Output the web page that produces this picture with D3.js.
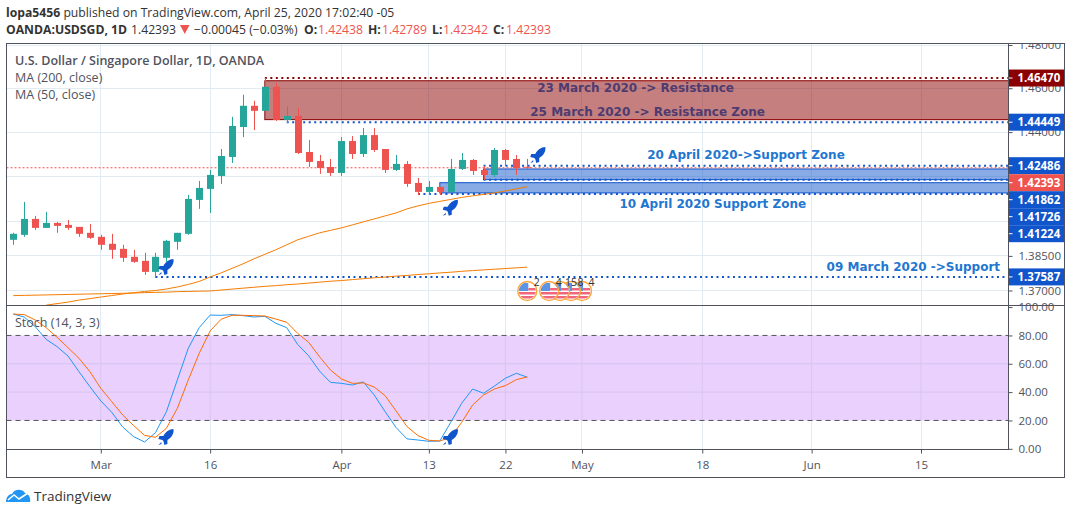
<!DOCTYPE html>
<html><head><meta charset="utf-8">
<script src="https://cdn.jsdelivr.net/npm/d3@7"></script>
<style>html,body{margin:0;padding:0;background:#fff}svg{display:block}text{font-family:"Open Sans",sans-serif}</style>
</head><body><svg id="c" width="1071" height="514"></svg>
<script>
const open=[1.39202,1.3942,1.4012,1.39725,1.39944,1.39857,1.39769,1.39508,1.39333,1.39027,1.38808,1.38459,1.38284,1.37805,1.38415,1.39114,1.39464,1.40961,1.41449,1.42027,1.42878,1.4423,1.45196,1.44966,1.46069,1.44552,1.44736,1.43102,1.42699,1.4243,1.42161,1.43595,1.43012,1.43864,1.43236,1.42296,1.42564,1.41715,1.41316,1.41538,1.41316,1.4234,1.42744,1.42296,1.42072,1.43192,1.42788,1.42438];
const high=[1.39508,1.40873,1.40253,1.4043,1.39988,1.40075,1.39769,1.399,1.3942,1.39464,1.38983,1.38765,1.38634,1.38634,1.39202,1.39508,1.41183,1.41803,1.42296,1.43236,1.4469,1.45702,1.45426,1.46483,1.46253,1.4515,1.45104,1.4364,1.42968,1.42788,1.43774,1.43819,1.44184,1.44184,1.43236,1.42968,1.42699,1.41936,1.41803,1.41538,1.42788,1.43057,1.42788,1.42475,1.43281,1.43236,1.42968,1.42789];
const low=[1.38983,1.39333,1.39638,1.39725,1.39508,1.39638,1.39333,1.39245,1.38765,1.38371,1.3824,1.38197,1.37674,1.37544,1.3824,1.38765,1.3942,1.40563,1.40385,1.41671,1.42609,1.43774,1.44092,1.44966,1.44506,1.44414,1.43012,1.4243,1.42117,1.42027,1.42027,1.42788,1.42878,1.43102,1.42161,1.42251,1.41538,1.41183,1.41183,1.41183,1.41272,1.42296,1.42072,1.41848,1.4198,1.42475,1.42072,1.42342];
const close=[1.39464,1.4012,1.39725,1.39944,1.39813,1.39725,1.39464,1.39289,1.38983,1.38765,1.38415,1.3824,1.37805,1.38459,1.39158,1.39508,1.41006,1.41494,1.42072,1.42923,1.44276,1.45196,1.44966,1.46069,1.44552,1.44736,1.43057,1.42654,1.42385,1.42161,1.43595,1.43012,1.43864,1.43192,1.42296,1.42564,1.41671,1.41316,1.41538,1.41316,1.4234,1.42744,1.42251,1.42072,1.43192,1.42744,1.42385,1.42393];
const ma200=[1.3678,1.3679,1.368,1.3681,1.3682,1.3683,1.3684,1.3685,1.3686,1.3687,1.3688,1.3689,1.3691,1.3692,1.3693,1.3695,1.3696,1.3697,1.3698,1.3702,1.3706,1.371,1.3714,1.3718,1.3721,1.3725,1.3728,1.3732,1.3736,1.374,1.3743,1.3747,1.3751,1.3755,1.3758,1.3762,1.3765,1.3769,1.3772,1.3776,1.3779,1.3783,1.3786,1.3789,1.3792,1.3795,1.3798,1.3801];
const ma50=[null,null,null,1.3637,1.36435,1.365,1.36587,1.3665,1.36717,1.36783,1.36848,1.36904,1.36957,1.37,1.37065,1.37152,1.37261,1.37392,1.37587,1.37761,1.37957,1.38153,1.38371,1.38568,1.38765,1.38983,1.39202,1.39355,1.39508,1.39617,1.39725,1.39857,1.39988,1.4012,1.40253,1.40385,1.40563,1.40695,1.40806,1.40895,1.40983,1.41072,1.41139,1.41205,1.41272,1.4136,1.41449,1.41551];
const stochK=[95.1,93,86.2,77.3,72.1,65.5,54.5,43.9,33.8,25.8,15.4,8.6,4.8,11.4,26.2,48.6,70.9,85.5,94.4,94.2,94.7,94,93,93.5,88.6,85.5,73.7,65.7,54.9,46.9,46.2,45,47.2,38,26.2,15,7,6.2,5.3,5.5,18.7,32.1,42.2,39.2,44.3,49.8,53.3,50.5];
const stochD=[95.1,94.7,90.9,85.5,78.7,71.4,63.9,54.5,42.7,33.3,23.9,16.4,9.5,8.1,14.5,28.6,48.6,67.4,83.2,91.4,94.2,94.2,94,93.7,91.6,89.3,81.5,75.2,65,55.6,49.3,46.2,46.5,43.6,37.5,26.7,15.7,9.3,6,5.5,8.1,18.7,30.9,38,42.2,44.6,48.8,50.7];
const xTickBars=[8,18,30,38,45,52,63,73,83];
const xTickLabels=["Mar","16","Apr","13","22","May","18","Jun","15"];
const priceTicks=[1.48,1.46,1.44,1.42,1.40,1.385,1.37];
const stochTicks=[100,80,60,40,20,0];
const priceLabels=[1.4647,1.44449,1.42486,1.42393,1.41862,1.41726,1.41224,1.37587];
const priceLabelColors=["#8b0000","#1155cc","#1155cc","#ef5350","#1155cc","#1155cc","#1155cc","#1155cc"];
const dottedPrices=[1.4647,1.44449,1.42486,1.41862,1.41224,1.37587];
const dottedStartBars=[23,25,43,43,37,13];
const dottedColors=["#8b0000","#1155cc","#1155cc","#1155cc","#1155cc","#1155cc"];
const zoneTops=[1.46345,1.4234,1.41726];
const zoneBottoms=[1.44566,1.41862,1.41272];
const zoneStartBars=[23,43,39];
const zoneFills=["rgba(139,0,0,0.5)","rgba(17,85,204,0.5)","rgba(17,85,204,0.5)"];
const zoneStrokes=["#8b0000","#1155cc","#1155cc"];
const noteTexts=["23 March 2020 -> Resistance","25 March 2020 -> Resistance Zone","20 April 2020->Support Zone","10 April 2020 Support Zone","09 March 2020 ->Support"];
const noteBars=[56.9,58,67,63.96,82.3];
const notePrices=[1.4602,1.4492,1.42968,1.4078,1.3802];
const noteColors=["#4e3b6f","#4e3b6f","#1f77d0","#1f77d0","#1f77d0"];
const rocketBars=[14,40,48];
const rocketPrices=[1.3802,1.4061,1.4297];
const stochRocketBars=[14,40];
const stochRocketValues=[8.3,8.3];
const eventBars=[47,49,50,51,52];
const eventCounts=["2","4","15","8","4"];
const headerKeys=["O:","H:","L:","C:"];
const headerVals=["1.42438","1.42789","1.42342","1.42393"];
const headerKeyX=[304,368,432,493];
const headerValX=[318,382,443,506];

const L=6.5,AX=1008.5,R=1064.5,T=43.5,S=305.5,B=449.5,F=477.5;
const svg=d3.select("#c");
const x=d3.scaleLinear().domain([0,83]).range([13.3,921]);
const y=d3.scaleLog().domain([1.37,1.48]).range([290.5,45]);
const ys=d3.scaleLinear().domain([0,100]).range([448.8,307.1]);
const bars=d3.range(open.length);
const defs=svg.append("defs");
defs.append("clipPath").attr("id","m").append("rect").attr("x",L).attr("y",T).attr("width",AX-L).attr("height",S-T);
defs.append("clipPath").attr("id","s").append("rect").attr("x",L).attr("y",S).attr("width",AX-L).attr("height",B-S);
defs.append("clipPath").attr("id","ax").append("rect").attr("x",AX).attr("y",T).attr("width",R-AX).attr("height",F-T);

// header
const HF=12.2;
const h1=svg.append("text").attr("x",6).attr("y",17).attr("font-size",HF).attr("fill","#333");
h1.append("tspan").attr("font-weight",700).text("lopa5456");
h1.append("tspan").text(" published on TradingView.com, April 25, 2020 17:02:40 -05");
svg.append("text").attr("x",6).attr("y",34).attr("font-size",HF).attr("font-weight",700).attr("fill","#333").text("OANDA:USDSGD, 1D");
svg.append("text").attr("x",131).attr("y",34).attr("font-size",HF).attr("fill","#333").text("1.42393");
svg.append("path").attr("d","M180,25 h9.5 l-4.75,9 z").attr("fill","#ef5350");
svg.append("text").attr("x",194).attr("y",34).attr("font-size",HF).attr("fill","#333").text("\u22120.00045 (\u22120.03%)");
headerKeys.forEach((k,i)=>{
  svg.append("text").attr("x",headerKeyX[i]).attr("y",34).attr("font-size",HF).attr("font-weight",700).attr("fill","#333").text(k);
  svg.append("text").attr("x",headerValX[i]).attr("y",34).attr("font-size",HF).attr("fill","#ef5350").text(headerVals[i]);
});

// grid
const grid=svg.append("g").attr("stroke","#e1ecf2").attr("stroke-width",1).attr("shape-rendering","crispEdges");
xTickBars.forEach(b=>grid.append("line").attr("x1",x(b)).attr("x2",x(b)).attr("y1",T).attr("y2",B));
priceTicks.forEach(p=>grid.append("line").attr("x1",L).attr("x2",AX).attr("y1",y(p)).attr("y2",y(p)));

// stoch band
const st=svg.append("g").attr("clip-path","url(#s)");
st.append("rect").attr("x",L).attr("width",AX-L).attr("y",ys(80)).attr("height",ys(20)-ys(80)).attr("fill","#e9d0fd");
[60,40].forEach(v=>st.append("line").attr("x1",L).attr("x2",AX).attr("y1",ys(v)).attr("y2",ys(v)).attr("stroke","#d5c3f2"));
xTickBars.forEach(b=>st.append("line").attr("x1",x(b)).attr("x2",x(b)).attr("y1",ys(80)).attr("y2",ys(20)).attr("stroke","#d8c6f0"));
[80,20].forEach(v=>st.append("line").attr("x1",L).attr("x2",AX).attr("y1",ys(v)).attr("y2",ys(v)).attr("stroke","#555").attr("stroke-dasharray","5 4"));
const sl=d3.line().x((d,i)=>x(i)).y(d=>ys(d));
st.append("path").attr("d",sl(stochK)).attr("fill","none").attr("stroke","#2196f3").attr("stroke-width",1);
st.append("path").attr("d",sl(stochD)).attr("fill","none").attr("stroke","#ff6d00").attr("stroke-width",1);

// main pane
const m=svg.append("g").attr("clip-path","url(#m)");
zoneTops.forEach((t,i)=>{
  m.append("rect").attr("x",x(zoneStartBars[i])).attr("width",AX-x(zoneStartBars[i])).attr("y",y(t)).attr("height",y(zoneBottoms[i])-y(t))
   .attr("fill",zoneFills[i]).attr("stroke",zoneStrokes[i]).attr("stroke-width",1);
});
m.append("line").attr("x1",L).attr("x2",AX).attr("y1",y(close[47])).attr("y2",y(close[47])).attr("stroke","#ef5350").attr("stroke-dasharray","2 2");
dottedPrices.forEach((p,i)=>{
  m.append("line").attr("x1",x(dottedStartBars[i])).attr("x2",AX).attr("y1",y(p)).attr("y2",y(p))
   .attr("stroke",dottedColors[i]).attr("stroke-width",2).attr("stroke-dasharray","2 3.5");
});
const ml=d3.line().defined(d=>d!==null).x((d,i)=>x(i)).y(d=>y(d));
m.append("path").attr("d",ml(ma200)).attr("fill","none").attr("stroke","#f57c00").attr("stroke-width",1);
m.append("path").attr("d",ml(ma50)).attr("fill","none").attr("stroke","#f57c00").attr("stroke-width",1);
bars.forEach(i=>{
  const up=close[i]>=open[i],c=up?"#26a69a":"#ef5350";
  const X=Math.round(x(i))+0.5;
  m.append("line").attr("x1",X).attr("x2",X).attr("y1",y(high[i])).attr("y2",y(low[i])).attr("stroke",c).attr("stroke-width",1);
  const a=y(Math.max(open[i],close[i])),b=y(Math.min(open[i],close[i]));
  m.append("rect").attr("x",X-3.5).attr("width",7).attr("y",a).attr("height",Math.max(1,b-a)).attr("fill",c);
});
noteTexts.forEach((t,i)=>{
  svg.append("text").attr("x",x(noteBars[i])).attr("y",y(notePrices[i])).attr("text-anchor","middle").attr("dy","0.35em")
   .style("font-family","DejaVu Sans").attr("font-size",12).attr("font-weight",700).attr("fill",noteColors[i]).text(t);
});
const rocket="M7,-8 C3,-8 -1,-5 -3,-1 L-7,-1 L-8,2 L-4,3 L-3,4 L-2,8 L1,7 L1,3 C5,1 8,-4 7,-8 Z M-5,5 L-8,8 L-5,7 Z";
const drawRocket=(px,py)=>svg.append("path").attr("d",rocket).attr("transform",`translate(${px},${py})`).attr("fill","#1155cc");
rocketBars.forEach((b,i)=>drawRocket(x(b),y(rocketPrices[i])));
stochRocketBars.forEach((b,i)=>drawRocket(x(b),ys(stochRocketValues[i])));

// event flags
const ev=svg.append("g");
d3.range(eventBars.length).reverse().forEach(i=>{
  const cx=x(eventBars[i]),cy=291,id="f"+i,g=ev.append("g");
  defs.append("clipPath").attr("id",id).append("circle").attr("cx",cx).attr("cy",cy).attr("r",8.5);
  const f=g.append("g").attr("clip-path",`url(#${id})`);
  f.append("rect").attr("x",cx-9).attr("y",cy-9).attr("width",18).attr("height",18).attr("fill","#fff");
  f.append("rect").attr("x",cx-9).attr("y",cy-8).attr("width",10).attr("height",8).attr("fill","#5b93e6");
  [1,5].forEach(o=>f.append("rect").attr("x",cx-9).attr("y",cy+o).attr("width",18).attr("height",2.5).attr("fill","#f0667c"));
  f.append("rect").attr("x",cx+1).attr("y",cy-3).attr("width",8).attr("height",2.5).attr("fill","#f0667c");
  g.append("circle").attr("cx",cx).attr("cy",cy).attr("r",9.5).attr("fill","none").attr("stroke","#f9a73e").attr("stroke-width",1.4);
  svg.append("text").attr("x",cx+(i===2?11:9.5)).attr("y",286).attr("text-anchor","middle").attr("font-size",10.5).attr("fill","#333").text(eventCounts[i]);
});

// pane labels
svg.append("text").attr("x",15).attr("y",65).attr("font-size",12.5).attr("font-weight",600).attr("fill","#50535e").text("U.S. Dollar / Singapore Dollar, 1D, OANDA");
svg.append("text").attr("x",15).attr("y",82).attr("font-size",12.5).attr("fill","#50535e").text("MA (200, close)");
svg.append("text").attr("x",15).attr("y",99).attr("font-size",12.5).attr("fill","#50535e").text("MA (50, close)");
svg.append("text").attr("x",15).attr("y",327).attr("font-size",12.5).attr("fill","#50535e").text("Stoch (14, 3, 3)");

// axes
const styleAxis=g=>{g.select(".domain").remove();g.selectAll("line").attr("stroke","#50535e");g.selectAll("text").attr("fill","#50535e").attr("font-size",11.5).style("font-family",'"Open Sans",sans-serif');};
const clipAx=svg.append("g").attr("clip-path","url(#ax)");
clipAx.append("g").attr("transform",`translate(${AX},0)`).call(d3.axisRight(y).tickValues(priceTicks.filter(p=>p!==1.42&&p!==1.40)).tickFormat(d3.format(".5f")).tickSize(4).tickPadding(6)).call(styleAxis);
clipAx.append("g").attr("transform",`translate(${AX},0)`).call(d3.axisRight(ys).tickValues(stochTicks).tickFormat(d3.format(".2f")).tickSize(4).tickPadding(6)).call(styleAxis);
svg.append("g").attr("transform",`translate(0,${B})`).call(d3.axisBottom(x).tickValues(xTickBars).tickFormat((d,i)=>xTickLabels[i]).tickSize(4).tickPadding(7)).call(styleAxis);

// price labels with collision stacking
let last=-Infinity;
priceLabels.forEach((p,i)=>{
  const ly=Math.max(y(p),last+17);last=ly;
  svg.append("rect").attr("x",AX).attr("y",ly-8.5).attr("width",R-AX).attr("height",17).attr("fill",priceLabelColors[i]);
  svg.append("line").attr("x1",AX).attr("x2",AX+4).attr("y1",ly).attr("y2",ly).attr("stroke","#fff");
  svg.append("text").attr("x",AX+9).attr("y",ly).attr("dy","0.35em").attr("font-size",11.5).attr("font-weight",700).attr("fill","#fff").text(d3.format(".5f")(p));
});

// frame
const fr=svg.append("g").attr("fill","none").attr("stroke","#50535e").attr("stroke-width",1.2).attr("shape-rendering","crispEdges");
fr.append("rect").attr("x",L).attr("y",T).attr("width",R-L).attr("height",F-T);
fr.append("line").attr("x1",L).attr("x2",R).attr("y1",S).attr("y2",S);
fr.append("line").attr("x1",L).attr("x2",AX).attr("y1",B).attr("y2",B);
fr.append("line").attr("x1",AX).attr("x2",AX).attr("y1",T).attr("y2",B);

// logo
svg.append("path").attr("d","M6,502 C6,497 9,494 12,494 C14,489 22,488 25,493 C29,494 31,498 30,502 L6,502 Z").attr("fill","#2196f3");
svg.append("path").attr("d","M8,500 L14,495 L19,499 L28,493").attr("fill","none").attr("stroke","#fff").attr("stroke-width",1.6);
svg.append("text").attr("x",34).attr("y",501).attr("font-size",13.5).attr("fill","#333").text("TradingView");
</script></body></html>
